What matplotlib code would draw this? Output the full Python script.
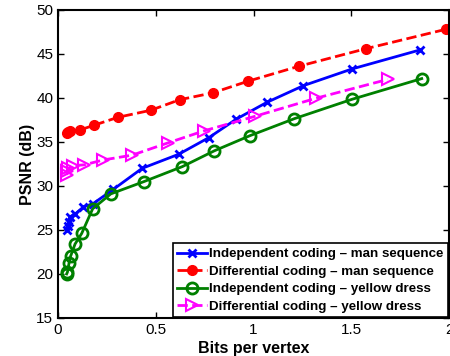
import matplotlib
matplotlib.use("Agg")
import matplotlib.pyplot as plt

plt.rcParams['font.family'] = ['Liberation Sans', 'DejaVu Sans']

# Independent coding - man sequence
ind_man_x = [0.044, 0.050, 0.055, 0.061, 0.087, 0.129, 0.18, 0.282, 0.43, 0.617, 0.772, 0.912, 1.068, 1.255, 1.504, 1.85]
ind_man_y = [25.0, 25.4, 25.9, 26.5, 26.8, 27.6, 28.0, 29.6, 32.0, 33.6, 35.5, 37.6, 39.5, 41.4, 43.3, 45.45]

# Differential coding - man sequence
dif_man_x = [0.044, 0.05, 0.061, 0.112, 0.184, 0.306, 0.474, 0.622, 0.79, 0.971, 1.231, 1.575, 1.983]
dif_man_y = [36.0, 36.1, 36.25, 36.36, 36.9, 37.8, 38.6, 39.8, 40.57, 41.9, 43.6, 45.6, 47.8]

# Independent coding - yellow dress
ind_yel_x = [0.044, 0.048, 0.056, 0.064, 0.087, 0.121, 0.177, 0.27, 0.44, 0.636, 0.80, 0.98, 1.209, 1.504, 1.86]
ind_yel_y = [20.0, 20.2, 21.2, 22.0, 23.4, 24.6, 27.4, 29.1, 30.5, 32.2, 34.0, 35.7, 37.65, 39.85, 42.2]

# Differential coding - yellow dress
dif_yel_x = [0.044, 0.048, 0.053, 0.078, 0.134, 0.231, 0.379, 0.563, 0.745, 1.005, 1.32, 1.685]
dif_yel_y = [31.25, 31.7, 32.0, 32.3, 32.4, 32.95, 33.5, 34.9, 36.25, 37.9, 39.97, 42.1]

labels = ['Independent coding \u2013 man sequence',
          'Differential coding \u2013 man sequence',
          'Independent coding \u2013 yellow dress',
          'Differential coding \u2013 yellow dress']

fig = plt.figure(figsize=(4.5, 3.56), dpi=100)
ax = fig.add_axes([0.129, 0.107, 0.869, 0.865])

ax.plot(ind_man_x, ind_man_y, '-', color='blue', lw=2, marker='x', ms=6, mew=2, label=labels[0])
ax.plot(dif_man_x, dif_man_y, '--', color='red', lw=2, marker='o', ms=7, mfc='red', mec='red', label=labels[1])
ax.plot(ind_yel_x, ind_yel_y, '-', color='green', lw=2, marker='o', ms=8, mfc='none', mew=2, label=labels[2])
ax.plot(dif_yel_x, dif_yel_y, '--', color='magenta', lw=2, marker='>', ms=9, mfc='none', mew=1.5, label=labels[3])

ax.set_xlim(0, 2)
ax.set_ylim(15, 50)
ax.set_xticks([0, 0.5, 1, 1.5, 2])
ax.set_xticklabels(['0', '0.5', '1', '1.5', '2'])
ax.set_yticks(range(15, 51, 5))
ax.tick_params(direction='in', top=True, right=True, labelsize=11, length=4, width=1)
for s in ax.spines.values():
    s.set_linewidth(1.5)

ax.set_xlabel('Bits per vertex', fontsize=11.5, fontweight='bold', labelpad=3)
ax.set_ylabel('PSNR (dB)', fontsize=11.5, fontweight='bold', labelpad=1)

leg = ax.legend(loc='lower right', prop={'weight': 'bold', 'size': 9.6},
                fancybox=False, framealpha=1, edgecolor='black',
                handlelength=2.2, borderaxespad=0.05, labelspacing=0.38,
                borderpad=0.35, handletextpad=0.2)
leg.get_frame().set_linewidth(1.2)

fig.savefig('out.png', dpi=100)
